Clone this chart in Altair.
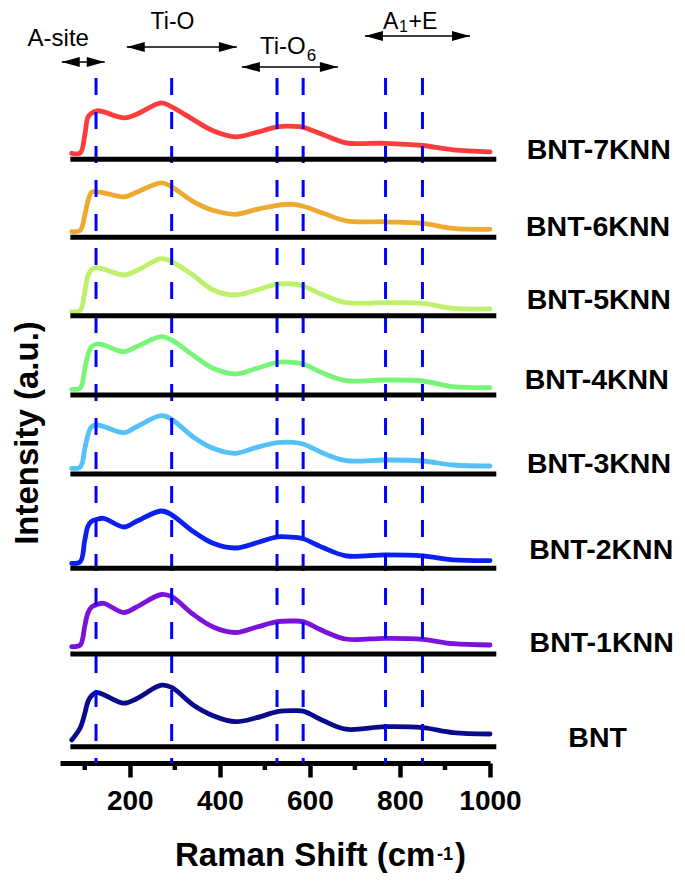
import altair as alt
import pandas as pd

# ---------------- data ----------------
shift = [71, 90, 100, 107, 115, 127, 142, 187, 215, 270, 293, 340, 385, 435,
         482, 528, 563, 585, 630, 680, 767, 850, 918, 1000]

samples = ["BNT-7KNN", "BNT-6KNN", "BNT-5KNN", "BNT-4KNN",
           "BNT-3KNN", "BNT-2KNN", "BNT-1KNN", "BNT"]
colors = ["#ff3c3c", "#eeaa30", "#bff06c", "#78f578",
          "#55c1f8", "#0b1ff2", "#7a12d9", "#0a0a8c"]
# vertical offsets of the stacked spectra (a.u.)
offsets = [603.7, 525.7, 447.3, 368, 289, 194.7, 109, 16.3]

i_7knn = [6, 6.5, 24, 42, 46, 48.5, 47.5, 41.5, 45, 56.5, 52.5, 40, 28.5, 22.5,
          27, 32.5, 33, 32, 24.5, 16.5, 16, 13.8, 9.5, 7.5]
i_6knn = [5.6, 7, 22, 36, 45, 45.5, 44.5, 40.5, 45, 54.5, 50.5, 36, 27, 23,
          28, 32, 33, 31, 24, 16.5, 15.5, 14, 9, 8]
i_5knn = [4, 5.5, 24, 40, 46, 48, 46.5, 40.7, 45, 57, 54, 40.7, 25.7, 20.7,
          25.7, 31.7, 31.7, 29.7, 20.7, 13, 13, 12.4, 7.4, 6.7]
i_4knn = [5.7, 7, 26, 40, 48.3, 51, 50, 43.3, 48.3, 58.3, 55, 40, 26.7, 21,
          26.7, 32.7, 32.7, 31, 21.7, 14.3, 15, 14, 8.3, 7.3]
i_3knn = [5.7, 7, 25, 39, 47.3, 49, 47.5, 41.3, 47.3, 58.3, 54.7, 37.3, 25.7, 20.7,
          26.7, 31.3, 31.7, 30, 20.7, 13.3, 14, 13, 9, 8]
i_2knn = [5, 6.5, 28, 42, 47, 49, 50, 41.3, 47, 57.3, 53.5, 37, 25, 20.3,
          25.5, 31.5, 31, 29.5, 20.5, 12.5, 13.5, 12.5, 8.5, 7.7]
i_1knn = [7.3, 9, 28, 41, 47, 49.5, 50.7, 41.5, 47, 59.5, 57.3, 40, 27, 21.5,
          27, 32.3, 33, 32.3, 23, 15, 15.7, 14.7, 10.3, 9]
i_bnt = [6.7, 19, 33, 45, 51, 54, 52, 43.5, 48, 61.5, 59.3, 42, 31, 25,
         29, 35, 36, 35.5, 26, 17.5, 20, 19, 14, 12.7]
intensities = [i_7knn, i_6knn, i_5knn, i_4knn, i_3knn, i_2knn, i_1knn, i_bnt]

# characteristic Raman modes (dashed lines)
modes = [125, 293, 527, 585, 768, 850]
baseline_range = [68, 1014]
major_ticks = [200, 400, 600, 800, 1000]
minor_ticks = [100, 300, 500, 700, 900]

# sample labels (placed right of spectra)
label_x = [1081.5, 1080, 1081.5, 1077, 1082, 1087, 1088, 1174]
label_y = [613, 536, 463, 383, 299, 213, 120, 25.5]

# band-assignment arrows
arrow_x1 = [48.9, 193.3, 448.9, 722.2]
arrow_x2 = [144.4, 437.8, 662.2, 955.6]
arrow_y = [701, 716, 696, 727]

ann_text = ["A-site", "Ti-O", "Ti-O", "6", "A", "1", "+E"]
ann_x = [41.2, 294.9, 489.2, 592.9, 762.4, 797.9, 819]
ann_y = [717, 734, 709, 702, 734, 731, 734]
ann_size = [24, 23, 24, 17, 23, 16, 23]
ann_align = ["center", "center", "left", "left", "left", "left", "left"]

# ---------------- tables ----------------
rows = []
for s, off, vals in zip(samples, offsets, intensities):
    for x, v in zip(shift, vals):
        rows.append({"sample": s, "shift": x, "y": off + v})
spec = pd.DataFrame(rows)
base_df = pd.DataFrame({"x1": baseline_range[0], "x2": baseline_range[1], "y": offsets})
mode_df = pd.DataFrame({"m": modes, "top": 685, "bottom": 0})
minor_df = pd.DataFrame({"t": minor_ticks})
lab_df = pd.DataFrame({"text": samples, "x": label_x, "y": label_y})
arr_df = pd.DataFrame({"x1": arrow_x1, "x2": arrow_x2, "y": arrow_y})
ann_df = pd.DataFrame({"text": ann_text, "x": ann_x, "y": ann_y, "size": ann_size,
                       "align": ann_align})
one = pd.DataFrame({"k": [0]})

FONT = "Liberation Sans, Arial, sans-serif"
W, H = 430, 753
xs = alt.Scale(domain=[45, 1000], nice=False, zero=False)
ys = alt.Scale(domain=[0, 753], nice=False, zero=False)
xaxis = alt.Axis(values=major_ticks, format="d", labelFont=FONT, labelFontWeight="bold",
                 labelFontSize=28, labelColor="black", tickSize=14, tickWidth=4.5,
                 tickColor="black", domainColor="black", domainWidth=5,
                 labelPadding=10, grid=False, title=None, labelFlush=False,
                 labelOverlap=False)


def X(f):
    return alt.X(f, type="quantitative", scale=xs, axis=xaxis)


def Y(f):
    return alt.Y(f, type="quantitative", scale=ys, axis=None)


curves = alt.Chart(spec).mark_line(strokeWidth=4.8, interpolate="catmull-rom",
                                   strokeCap="round", strokeJoin="round").encode(
    x=X("shift"), y=Y("y"),
    color=alt.Color("sample:N", scale=alt.Scale(domain=samples, range=colors), legend=None),
    detail="sample:N",
)

dashes = alt.Chart(mode_df).mark_rule(color="#0000ff", strokeWidth=3,
                                      strokeDash=[17, 17]).encode(
    x=X("m"), y=Y("top"), y2="bottom")

baselines = alt.Chart(base_df).mark_rule(color="black", strokeWidth=5).encode(
    x=X("x1"), x2="x2", y=Y("y"))

minor = alt.Chart(minor_df).mark_rule(color="black", strokeWidth=4.5).encode(
    x=X("t"), y=alt.value(H), y2=alt.value(H + 7))

labels = alt.Chart(lab_df).mark_text(font=FONT, fontWeight="bold", fontSize=28.5,
                                     align="left", baseline="middle", color="black").encode(
    x=X("x"), y=Y("y"), text="text")

arrow_lines = alt.Chart(arr_df).mark_rule(color="black", strokeWidth=1.5).encode(
    x=X("x1"), x2="x2", y=Y("y"))
left_head = alt.Chart(arr_df).mark_point(shape="M0,0L2,-0.55L2,0.55Z", filled=True,
                                         size=324, color="black", opacity=1,
                                         strokeWidth=0).encode(x=X("x1"), y=Y("y"))
right_head = alt.Chart(arr_df).mark_point(shape="M0,0L-2,-0.55L-2,0.55Z", filled=True,
                                          size=324, color="black", opacity=1,
                                          strokeWidth=0).encode(x=X("x2"), y=Y("y"))

ann_c = alt.Chart(ann_df).transform_filter(alt.datum.align == "center").mark_text(
    font=FONT, align="center", baseline="alphabetic", color="black").encode(
    x=X("x"), y=Y("y"), text="text", size=alt.Size("size:Q", scale=None, legend=None))
ann_l = alt.Chart(ann_df).transform_filter(alt.datum.align == "left").mark_text(
    font=FONT, align="left", baseline="alphabetic", color="black").encode(
    x=X("x"), y=Y("y"), text="text", size=alt.Size("size:Q", scale=None, legend=None))

# axis titles (with superscript) as text
xt1 = alt.Chart(one).mark_text(text="Raman Shift (cm", font=FONT, fontWeight="bold",
                               fontSize=33, align="left", baseline="alphabetic",
                               color="black").encode(x=alt.value(115), y=alt.value(856))
xt2 = alt.Chart(one).mark_text(text="-1", font=FONT, fontWeight="bold",
                               fontSize=18, align="left", baseline="alphabetic",
                               color="black").encode(x=alt.value(377), y=alt.value(850))
xt3 = alt.Chart(one).mark_text(text=")", font=FONT, fontWeight="bold",
                               fontSize=33, align="left", baseline="alphabetic",
                               color="black").encode(x=alt.value(395), y=alt.value(856))
yt = alt.Chart(one).mark_text(text="Intensity (a.u.)", font=FONT, fontWeight="bold",
                              fontSize=33, align="center", baseline="alphabetic",
                              angle=270, color="black").encode(
    x=alt.value(-22), y=alt.value(423))

chart = alt.layer(
    curves, dashes, baselines, minor, labels, arrow_lines, left_head, right_head,
    ann_c, ann_l, xt1, xt2, xt3, yt
).properties(
    width=W, height=H,
    autosize=alt.AutoSizeParams(type="none"),
    padding={"left": 52, "top": 2, "right": 187, "bottom": 111},
    background="white",
).configure_view(stroke=None)

chart.save("out.html", embed_options={"renderer": "svg", "actions": False})
